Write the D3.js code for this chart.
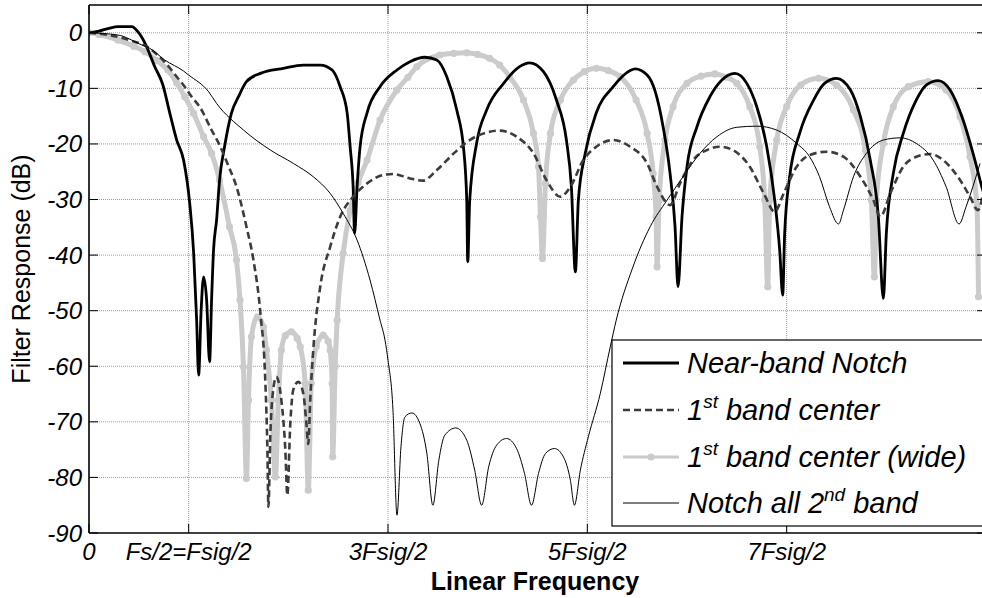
<!DOCTYPE html>
<html>
<head>
<meta charset="utf-8">
<script src="https://cdn.jsdelivr.net/npm/d3@7"></script>
<style>
  html, body { margin: 0; padding: 0; background: #fff; }
  svg text { font-family: "Liberation Sans", Arial, sans-serif; }
</style>
</head>
<body>
<svg id="chart" width="982" height="598"></svg>
<script>
// Frequency axis in units of Fsig/2, response in dB
const xTickValues = [0, 1, 3, 5, 7];
const xTickLabels = ["0", "Fs/2=Fsig/2", "3Fsig/2", "5Fsig/2", "7Fsig/2"];
const yTickValues = [0, -10, -20, -30, -40, -50, -60, -70, -80, -90];

// Near-band Notch
const nearFreq = [0, 0.1, 0.2, 0.29, 0.43, 0.49, 0.56, 0.66, 0.74, 0.81, 0.88, 0.95, 1.01, 1.05, 1.08, 1.10, 1.125, 1.15, 1.18, 1.21, 1.23, 1.25, 1.28, 1.31, 1.36, 1.43, 1.50, 1.58, 1.72, 1.95, 2.15, 2.32, 2.44, 2.52, 2.59, 2.62, 2.65, 2.665, 2.69, 2.72, 2.79, 2.92, 3.09, 3.22, 3.37, 3.49, 3.59, 3.69, 3.76, 3.79, 3.80, 3.82, 3.89, 3.99, 4.16, 4.32, 4.42, 4.56, 4.69, 4.79, 4.84, 4.88, 4.91, 4.98, 5.09, 5.26, 5.43, 5.48, 5.60, 5.68, 5.76, 5.83, 5.88, 5.91, 5.95, 6.00, 6.10, 6.23, 6.35, 6.48, 6.60, 6.70, 6.80, 6.88, 6.93, 6.96, 6.98, 7.03, 7.13, 7.27, 7.38, 7.50, 7.64, 7.74, 7.84, 7.92, 7.97, 8.00, 8.07, 8.17, 8.30, 8.40, 8.52, 8.64, 8.77, 8.87, 8.94, 8.97];
const nearDb = [0, 0.3, 0.8, 1.1, 1.1, 0.2, -1.8, -6.1, -9.3, -14.4, -19.3, -23, -30.6, -39.6, -51.7, -61.6, -50, -43.9, -48, -59.2, -48, -39, -33.7, -26.5, -20.5, -14.4, -11.5, -8.8, -7.3, -6.4, -5.8, -5.8, -6.7, -9.7, -14.4, -20.5, -27.7, -36.1, -27.7, -20.5, -14.4, -9.7, -6.7, -5.2, -4.4, -4.9, -7.9, -13.9, -21.1, -30.1, -41.2, -30.1, -19.8, -13.9, -9.1, -6.1, -5.4, -7.0, -12.1, -19.3, -27.7, -43, -30.1, -21.6, -14.4, -9.7, -6.8, -6.5, -7.6, -10.5, -16.9, -25.3, -34.9, -45.7, -33.1, -24.1, -16.9, -11.5, -8.5, -7.3, -9.1, -13.3, -20.5, -30.1, -39.1, -47.2, -36.1, -25.9, -18.1, -12.1, -9.1, -8.2, -10.3, -15.1, -23, -33.1, -47.8, -36.1, -25.3, -18.1, -12.1, -9.4, -8.6, -10.3, -15.7, -21.7, -26.5, -28.5];

// 1st band center
const centerFreq = [0, 0.2, 0.4, 0.58, 0.70, 0.80, 0.88, 0.96, 1.03, 1.11, 1.23, 1.31, 1.40, 1.48, 1.58, 1.65, 1.72, 1.77, 1.79, 1.80, 1.82, 1.85, 1.88, 1.91, 1.93, 1.97, 1.99, 2.02, 2.05, 2.10, 2.15, 2.18, 2.20, 2.22, 2.25, 2.32, 2.42, 2.52, 2.65, 2.79, 2.95, 3.05, 3.22, 3.35, 3.49, 3.66, 3.82, 4.02, 4.12, 4.29, 4.46, 4.59, 4.73, 4.83, 4.96, 5.09, 5.26, 5.43, 5.60, 5.70, 5.83, 5.93, 6.06, 6.20, 6.33, 6.46, 6.63, 6.77, 6.88, 6.97, 7.10, 7.23, 7.40, 7.57, 7.74, 7.87, 7.94, 8.04, 8.17, 8.30, 8.44, 8.57, 8.74, 8.84, 8.92, 8.97];
const centerDb = [0, -0.4, -1.3, -2.5, -4.2, -6.1, -7.9, -9.7, -11.5, -13.3, -17.5, -20.2, -24, -27.7, -34.9, -40.9, -50.5, -63.1, -75.1, -85.3, -72, -64, -61.9, -63.5, -66.1, -75.1, -83.2, -70.2, -64.2, -62.8, -64.9, -70, -74, -66, -57.1, -45.7, -38.5, -33.1, -29.5, -27.1, -25.6, -25.4, -26.2, -26.6, -24.7, -21.7, -19.3, -17.8, -17.6, -18.7, -21.7, -26.5, -29.5, -27.7, -22.9, -20.5, -19.3, -20.5, -23.5, -27.7, -31, -27.1, -22.9, -21.1, -20.5, -21.1, -24.1, -28.9, -32.2, -28.9, -24.1, -22, -21.4, -22.3, -25.9, -30.1, -33.1, -28.9, -24.1, -22.3, -21.8, -22.9, -26.5, -29.5, -31.9, -29];

// 1st band center (wide)
const wideFreq = [0, 0.1, 0.29, 0.45, 0.56, 0.68, 0.79, 0.88, 0.96, 1.05, 1.15, 1.23, 1.31, 1.41, 1.48, 1.515, 1.55, 1.58, 1.60, 1.63, 1.69, 1.75, 1.78, 1.83, 1.87, 1.90, 1.93, 1.97, 2.03, 2.09, 2.12, 2.17, 2.20, 2.23, 2.28, 2.35, 2.40, 2.42, 2.44, 2.445, 2.47, 2.49, 2.55, 2.62, 2.70, 2.79, 2.92, 3.09, 3.20, 3.29, 3.52, 3.66, 3.79, 3.90, 4.02, 4.12, 4.22, 4.36, 4.46, 4.51, 4.53, 4.55, 4.58, 4.63, 4.73, 4.86, 4.97, 5.09, 5.21, 5.33, 5.49, 5.60, 5.66, 5.69, 5.70, 5.72, 5.78, 5.86, 6.00, 6.14, 6.28, 6.40, 6.50, 6.63, 6.73, 6.78, 6.81, 6.83, 6.90, 7.00, 7.14, 7.32, 7.50, 7.67, 7.79, 7.85, 7.88, 7.90, 7.97, 8.07, 8.22, 8.42, 8.60, 8.74, 8.84, 8.91, 8.925];
const wideDb = [0, -0.3, -1.3, -2.4, -3.4, -5, -6.7, -9, -11.5, -14.5, -18.7, -21.7, -26.5, -34.9, -40.9, -48.1, -60.1, -80.2, -66.1, -54.7, -51.1, -52.9, -57.1, -66.1, -79.9, -66.1, -57.1, -54.5, -53.8, -55, -56.5, -63.1, -82.3, -63.1, -56.5, -54.4, -55.5, -57.1, -63.1, -76.3, -60, -51.7, -39.7, -32, -27, -22.9, -15.7, -10.3, -8, -6.1, -4.0, -3.7, -3.6, -3.9, -4.6, -5.8, -7.9, -12.1, -18.1, -24.1, -33.1, -40.6, -27.1, -18.1, -12.1, -8.5, -7, -6.4, -6.8, -7.9, -12.1, -18.1, -25.3, -33.1, -42.1, -30.1, -19.3, -13.3, -9.1, -7.8, -7.4, -8, -9.1, -13.3, -20.5, -30.1, -45.7, -30.1, -19.3, -13.3, -9.4, -8.2, -9.4, -13.9, -21.1, -30.1, -43.9, -30.1, -19.9, -13.3, -9.7, -8.8, -10.3, -15.1, -22.3, -31.3, -47.5];

// Notch all 2nd band
const notch2Freq = [0, 0.29, 0.53, 0.61, 0.76, 0.95, 1.00, 1.20, 1.28, 1.55, 1.82, 2.05, 2.25, 2.42, 2.55, 2.69, 2.82, 2.92, 2.97, 3.00, 3.05, 3.09, 3.13, 3.17, 3.24, 3.32, 3.39, 3.45, 3.51, 3.57, 3.68, 3.79, 3.87, 3.94, 4.01, 4.09, 4.19, 4.29, 4.37, 4.44, 4.51, 4.58, 4.67, 4.76, 4.83, 4.87, 4.93, 5.01, 5.13, 5.23, 5.29, 5.45, 5.63, 5.80, 5.96, 6.13, 6.30, 6.50, 6.70, 6.90, 7.10, 7.23, 7.33, 7.43, 7.52, 7.57, 7.67, 7.80, 7.97, 8.14, 8.30, 8.47, 8.60, 8.73, 8.80, 8.94];
const notch2Db = [0, -0.4, -2.2, -2.8, -4.9, -6.9, -7.6, -10.6, -12.7, -17.5, -21.1, -23.5, -25.9, -28.9, -32.5, -37.3, -44.5, -51.7, -55.3, -58.9, -67.9, -86.8, -74.5, -69.1, -68.4, -70.3, -75.7, -85.0, -76.9, -72.4, -71.1, -73.3, -78.7, -85, -78.1, -74.2, -73.0, -74.8, -79.3, -85.0, -79.3, -75.7, -74.8, -76.3, -80.5, -85, -78.7, -72.7, -64.9, -56.5, -51.7, -42.5, -34.9, -30.1, -25.9, -21.7, -18.7, -17.0, -16.8, -17.5, -19.9, -22.3, -25.9, -31.3, -34.4, -31.9, -25.9, -21.7, -19.3, -18.9, -19.9, -22.9, -27.7, -34.4, -31.3, -23.5];

const svg = d3.select("#chart");
const W = 982, H = 598;
const plot = { left: 89, right: 986, top: 5, bottom: 533 };

const x = d3.scaleLinear().domain([0, 9]).range([plot.left, plot.right]);
const y = d3.scaleLinear().domain([-90, 5]).range([plot.bottom, plot.top]);

svg.append("rect").attr("width", W).attr("height", H).attr("fill", "#fff");

svg.append("defs").append("clipPath").attr("id", "plotClip")
  .append("rect")
  .attr("x", plot.left).attr("y", plot.top)
  .attr("width", plot.right - plot.left).attr("height", plot.bottom - plot.top);

// Dotted grid
const grid = svg.append("g").attr("class", "grid");
grid.selectAll("line.h").data(yTickValues.filter(v => v > -90)).enter().append("line")
  .attr("x1", plot.left).attr("x2", plot.right)
  .attr("y1", d => y(d)).attr("y2", d => y(d))
  .attr("stroke", "#9a9a9a").attr("stroke-width", 1).attr("stroke-dasharray", "1,1");
grid.selectAll("line.v").data(xTickValues.filter(v => v > 0)).enter().append("line")
  .attr("y1", plot.top).attr("y2", plot.bottom)
  .attr("x1", d => x(d)).attr("x2", d => x(d))
  .attr("stroke", "#9a9a9a").attr("stroke-width", 1).attr("stroke-dasharray", "1,1");

// Series
const toPts = (fs, ds) => fs.map((f, i) => [f, ds[i]]);
const line = d3.line().x(d => x(d[0])).y(d => y(d[1])).curve(d3.curveMonotoneX);
const series = svg.append("g").attr("clip-path", "url(#plotClip)");

const widePts = toPts(wideFreq, wideDb);
series.append("path").datum(widePts).attr("d", line)
  .attr("fill", "none").attr("stroke", "#cbcbcb").attr("stroke-width", 5)
  .attr("stroke-linejoin", "round");
series.append("g").selectAll("circle").data(widePts).enter().append("circle")
  .attr("cx", d => x(d[0])).attr("cy", d => y(d[1])).attr("r", 3.6)
  .attr("fill", "#cbcbcb");

series.append("path").datum(toPts(nearFreq, nearDb)).attr("d", line)
  .attr("fill", "none").attr("stroke", "#000").attr("stroke-width", 2.8)
  .attr("stroke-linejoin", "round");

series.append("path").datum(toPts(centerFreq, centerDb)).attr("d", line)
  .attr("fill", "none").attr("stroke", "#3c3c3c").attr("stroke-width", 2.6)
  .attr("stroke-dasharray", "7,4");

series.append("path").datum(toPts(notch2Freq, notch2Db)).attr("d", line)
  .attr("fill", "none").attr("stroke", "#000").attr("stroke-width", 1);

// Axes box and inward ticks
const axes = svg.append("g");
axes.append("line").attr("x1", plot.left).attr("x2", plot.left).attr("y1", plot.top).attr("y2", plot.bottom)
  .attr("stroke", "#000").attr("stroke-width", 1.6);
axes.append("line").attr("x1", plot.left).attr("x2", plot.right).attr("y1", plot.top).attr("y2", plot.top)
  .attr("stroke", "#000").attr("stroke-width", 1.6);
axes.append("line").attr("x1", plot.left).attr("x2", plot.right).attr("y1", plot.bottom).attr("y2", plot.bottom)
  .attr("stroke", "#000").attr("stroke-width", 1.6);

const tickLen = 9;
yTickValues.forEach(v => {
  axes.append("line").attr("x1", plot.left).attr("x2", plot.left + tickLen)
    .attr("y1", y(v)).attr("y2", y(v)).attr("stroke", "#000").attr("stroke-width", 1);
  axes.append("line").attr("x1", plot.right - tickLen).attr("x2", plot.right)
    .attr("y1", y(v)).attr("y2", y(v)).attr("stroke", "#000").attr("stroke-width", 1);
});
xTickValues.forEach(v => {
  axes.append("line").attr("x1", x(v)).attr("x2", x(v))
    .attr("y1", plot.bottom).attr("y2", plot.bottom - tickLen).attr("stroke", "#000").attr("stroke-width", 1);
  axes.append("line").attr("x1", x(v)).attr("x2", x(v))
    .attr("y1", plot.top).attr("y2", plot.top + tickLen).attr("stroke", "#000").attr("stroke-width", 1);
});

// Tick labels
svg.append("g").selectAll("text").data(yTickValues).enter().append("text")
  .attr("x", plot.left - 7).attr("y", d => y(d) + 8.5)
  .attr("text-anchor", "end").attr("font-size", 24).attr("font-style", "italic")
  .text(d => d);
svg.append("g").selectAll("text").data(xTickValues).enter().append("text")
  .attr("x", d => x(d)).attr("y", 560)
  .attr("text-anchor", "middle").attr("font-size", 24).attr("font-style", "italic")
  .text((d, i) => xTickLabels[i]);

// Axis titles
svg.append("text").attr("x", 535).attr("y", 590).attr("text-anchor", "middle")
  .attr("font-size", 25).attr("font-weight", "bold").text("Linear Frequency");
svg.append("text").attr("transform", "translate(30,269) rotate(-90)")
  .attr("text-anchor", "middle").attr("font-size", 25).text("Filter Response (dB)");

// Legend
const legend = svg.append("g");
legend.append("rect").attr("x", 612).attr("y", 340).attr("width", 390).attr("height", 186)
  .attr("fill", "#fff").attr("stroke", "#000").attr("stroke-width", 1.2);

const legendRows = [
  { y: 363, stroke: "#000", width: 2.8, dash: null, dot: false, parts: [["Near-band Notch", false]] },
  { y: 410, stroke: "#3c3c3c", width: 2.6, dash: "7,4", dot: false, parts: [["1", false], ["st", true], [" band center", false]] },
  { y: 457, stroke: "#cbcbcb", width: 3, dash: null, dot: true, parts: [["1", false], ["st", true], [" band center (wide)", false]] },
  { y: 503, stroke: "#000", width: 1, dash: null, dot: false, parts: [["Notch all 2", false], ["nd", true], [" band", false]] }
];
legendRows.forEach(r => {
  const ln = legend.append("line").attr("x1", 623).attr("x2", 679).attr("y1", r.y).attr("y2", r.y)
    .attr("stroke", r.stroke).attr("stroke-width", r.width);
  if (r.dash) ln.attr("stroke-dasharray", r.dash);
  if (r.dot) legend.append("circle").attr("cx", 651).attr("cy", r.y).attr("r", 3.6).attr("fill", r.stroke);
  const t = legend.append("text").attr("x", 687).attr("y", r.y + 10)
    .attr("font-size", 29).attr("font-style", "italic");
  r.parts.forEach(([s, sup]) => {
    const ts = t.append("tspan").text(s);
    if (sup) ts.attr("font-size", 19).attr("dy", -12);
    else if (t.selectAll("tspan").size() > 1) ts.attr("dy", 12);
  });
});
</script>
</body>
</html>
